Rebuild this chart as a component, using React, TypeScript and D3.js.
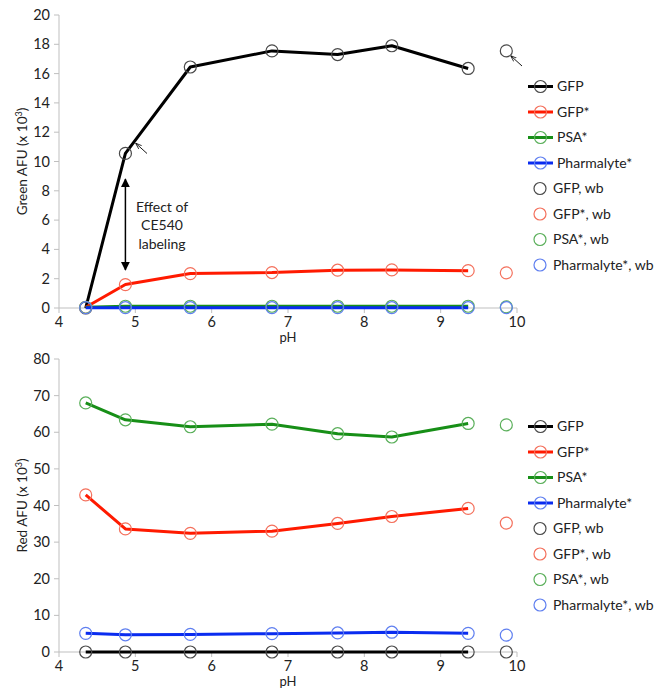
import React from "react";
import * as d3 from "d3";

const pH = [4.35, 4.87, 5.72, 6.79, 7.65, 8.36, 9.36];
const pHwb = 9.86;
const seriesNames = ["GFP", "GFP*", "PSA*", "Pharmalyte*"];
const lineColors = ["#000000", "#ff1a00", "#178f17", "#0a2cf0"];
const markerColors = ["#4a4a4a", "#f4705c", "#5aaf5a", "#5f7ff0"];

const greenGFP = [0, 10.55, 16.45, 17.55, 17.3, 17.9, 16.35];
const greenGFPs = [0.05, 1.6, 2.35, 2.42, 2.58, 2.6, 2.55];
const greenPSA = [0.05, 0.12, 0.12, 0.12, 0.12, 0.12, 0.12];
const greenPharm = [0.02, 0.02, 0.02, 0.02, 0.02, 0.02, 0.02];
const greenWb = [17.55, 2.4, 0.08, 0.02];

const redGFP = [0, 0, 0, 0, 0, 0, 0];
const redGFPs = [42.9, 33.6, 32.4, 33.0, 35.1, 37.0, 39.2];
const redPSA = [68.0, 63.4, 61.5, 62.2, 59.6, 58.7, 62.4];
const redPharm = [5.1, 4.7, 4.8, 5.0, 5.2, 5.4, 5.1];
const redWb = [0, 35.2, 62.0, 4.6];

const xTicks = [4, 5, 6, 7, 8, 9, 10];
const greenTicks = [0, 2, 4, 6, 8, 10, 12, 14, 16, 18, 20];
const redTicks = [0, 10, 20, 30, 40, 50, 60, 70, 80];
const annotationLines = ["Effect of", "CE540", "labeling"];

const FONT = "Lato, 'Open Sans', sans-serif";
const AX = "#bfbfbf";

function Panel({ top, bottom, yMax, yTicks, series, wb, yLabel, legendY0, drawOrder, children }: any) {
  const x = d3.scaleLinear().domain([4, 10]).range([59, 517]);
  const y = d3.scaleLinear().domain([0, yMax]).range([bottom, top]);
  const line = d3.line<number>().x((_, i) => x(pH[i])).y((d) => y(d));
  const legendStep = 25.5;
  return (
    <g fontFamily={FONT} fill="#222">
      {/* axes */}
      <line x1={59} x2={59} y1={top} y2={bottom} stroke={AX} />
      <line x1={59} x2={517} y1={bottom} y2={bottom} stroke={AX} />
      {yTicks.map((t: number) => (
        <g key={"y" + t}>
          <line x1={54} x2={59} y1={y(t)} y2={y(t)} stroke={AX} />
          <text x={50} y={y(t)} dy="0.35em" textAnchor="end" fontSize={14.5}>{t}</text>
        </g>
      ))}
      {xTicks.map((t) => (
        <g key={"x" + t}>
          <line x1={x(t)} x2={x(t)} y1={bottom} y2={bottom + 5} stroke={AX} />
          <text x={x(t)} y={bottom + 13.5} dy="0.35em" textAnchor="middle" fontSize={14.5}>{t}</text>
        </g>
      ))}
      <text x={288} y={bottom + 29.5} dy="0.35em" textAnchor="middle" fontSize={13}>pH</text>
      <text transform={`translate(22,${(top + bottom) / 2}) rotate(-90)`} textAnchor="middle" dy="0.35em" fontSize={13.5}>
        {yLabel} (x 10<tspan dy="-5" fontSize={9}>3</tspan><tspan dy="5">)</tspan>
      </text>
      {/* series */}
      {drawOrder.map((k: number) => (
        <g key={"s" + k}>
          <path d={line(series[k]) || ""} fill="none" stroke={lineColors[k]} strokeWidth={3} strokeLinejoin="round" />
        </g>
      ))}
      {drawOrder.map((k: number) => (
        <g key={"m" + k}>
          {series[k].map((v: number, i: number) => (
            <circle key={i} cx={x(pH[i])} cy={y(v)} r={6} fill="none" stroke={markerColors[k]} strokeWidth={1.2} />
          ))}
          <circle cx={x(pHwb)} cy={y(wb[k])} r={6} fill="none" stroke={markerColors[k]} strokeWidth={1.2} />
        </g>
      ))}
      {/* legend */}
      {seriesNames.map((n, k) => (
        <g key={"l" + k} transform={`translate(0,${legendY0 + k * legendStep})`}>
          <line x1={528} x2={553} y1={0} y2={0} stroke={lineColors[k]} strokeWidth={3} />
          <circle cx={540.5} cy={0} r={6} fill="none" stroke={markerColors[k]} strokeWidth={1.2} />
          <text x={557} y={0} dy="0.35em" fontSize={14}>{n}</text>
        </g>
      ))}
      {seriesNames.map((n, k) => (
        <g key={"w" + k} transform={`translate(0,${legendY0 + (k + 4) * legendStep})`}>
          <circle cx={540} cy={0} r={6} fill="none" stroke={markerColors[k]} strokeWidth={1.2} />
          <text x={553} y={0} dy="0.35em" fontSize={14}>{n + ", wb"}</text>
        </g>
      ))}
      {children ? children(x, y) : null}
    </g>
  );
}

export default function App() {
  return (
    <svg width={655} height={688} style={{ position: "absolute", left: 0, top: 0, background: "#fff" }}>
      <defs>
        <marker id="ah" viewBox="0 0 10 10" refX={9} refY={5} markerWidth={6} markerHeight={6} orient="auto-start-reverse">
          <path d="M0,0 L10,5 L0,10 z" fill="#000" />
        </marker>
        <marker id="ahs" viewBox="0 0 10 10" refX={9} refY={5} markerWidth={7} markerHeight={7} orient="auto-start-reverse">
          <path d="M0,1.5 L10,5 L0,8.5" fill="none" stroke="#000" strokeWidth={1.2} />
        </marker>
      </defs>
      <Panel
        top={15}
        bottom={308}
        yMax={20}
        yTicks={greenTicks}
        series={[greenGFP, greenGFPs, greenPSA, greenPharm]}
        wb={greenWb}
        yLabel="Green AFU"
        legendY0={86.5}
        drawOrder={[0, 1, 2, 3]}
      >
        {(x: any, y: any) => (
          <g>
            <line x1={x(pH[1])} x2={x(pH[1])} y1={y(8.8)} y2={y(2.6)} stroke="#000" strokeWidth={1.5} markerStart="url(#ah)" markerEnd="url(#ah)" />
            {annotationLines.map((t, i) => (
              <text key={t} x={162} y={207 + i * 18.5} dy="0.35em" textAnchor="middle" fontSize={14} fill="#222">{t}</text>
            ))}
            <line x1={147} y1={153.5} x2={136} y2={143.5} stroke="#000" strokeWidth={0.9} markerEnd="url(#ahs)" />
            <line x1={522} y1={66} x2={511} y2={56} stroke="#000" strokeWidth={0.9} markerEnd="url(#ahs)" />
          </g>
        )}
      </Panel>
      <Panel
        top={359}
        bottom={652}
        yMax={80}
        yTicks={redTicks}
        series={[redGFP, redGFPs, redPSA, redPharm]}
        wb={redWb}
        yLabel="Red AFU"
        legendY0={426.5}
        drawOrder={[3, 2, 1, 0]}
      />
    </svg>
  );
}
